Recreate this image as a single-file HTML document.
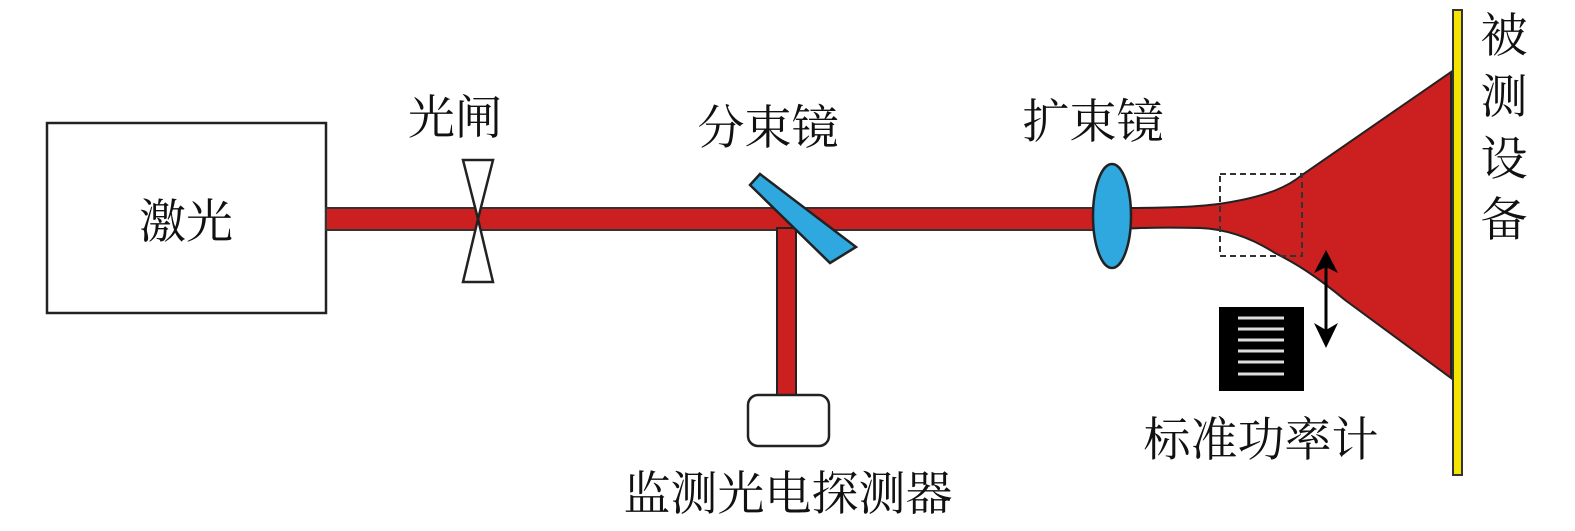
<!DOCTYPE html>
<html><head><meta charset="utf-8"><style>
html,body{margin:0;padding:0;background:#fff;}
svg{display:block;}
text{font-family:"Liberation Serif","Noto Serif CJK SC","Noto Sans CJK SC",serif;font-size:47px;fill:#111;}
</style></head><body>
<svg width="1575" height="531" viewBox="0 0 1575 531" xmlns="http://www.w3.org/2000/svg">
<rect x="47" y="123" width="279" height="190" fill="#fff" stroke="#222" stroke-width="2.5"/>
<text x="186" y="238" text-anchor="middle">激光</text>
<rect x="326" y="208" width="790" height="22" fill="#cc1f1f" stroke="#333" stroke-width="2"/>
<rect x="777" y="228" width="19" height="167" fill="#cc1f1f" stroke="#222" stroke-width="2"/>
<rect x="748" y="395" width="81" height="51" rx="10" fill="#fff" stroke="#222" stroke-width="2.5"/>
<polygon points="463,160 493,160 478,219 493,282 463,282 478,219" fill="#fff" stroke="#222" stroke-width="2.5"/>
<polygon points="750,185 760,174 856,247 830,263" fill="#2ea8de" stroke="#222" stroke-width="2.5"/>
<path d="M1112,208 C1170,208 1200,207 1225,203 C1270,196 1290,185 1302,175 L1451,72 L1451,378 L1345,300 C1315,275 1295,263 1275,253 C1250,237 1225,229 1200,228 C1160,227 1130,228 1112,230 Z" fill="#cc1f1f" stroke="#222" stroke-width="2"/>
<ellipse cx="1112" cy="216" rx="19" ry="52" fill="#2ea8de" stroke="#222" stroke-width="2.5"/>
<rect x="1220" y="174" width="82" height="82" fill="none" stroke="#333" stroke-width="2" stroke-dasharray="6,4"/>
<rect x="1219" y="307" width="85" height="84" fill="#000"/>
<g stroke="#ddd" stroke-width="3">
<line x1="1238" y1="318" x2="1284" y2="318"/>
<line x1="1238" y1="329" x2="1284" y2="329"/>
<line x1="1238" y1="340" x2="1284" y2="340"/>
<line x1="1238" y1="351" x2="1284" y2="351"/>
<line x1="1238" y1="362" x2="1284" y2="362"/>
<line x1="1238" y1="374" x2="1284" y2="374"/>
</g>
<line x1="1326" y1="262" x2="1326" y2="336" stroke="#000" stroke-width="3"/>
<polygon points="1326,250 1314,273 1326,267 1338,273" fill="#000"/>
<polygon points="1326,348 1314,323 1326,330 1338,323" fill="#000"/>
<rect x="1453" y="10" width="9" height="465" fill="#f5e400" stroke="#333" stroke-width="2"/>
<text x="455" y="134" text-anchor="middle">光闸</text>
<text x="768" y="144" text-anchor="middle">分束镜</text>
<text x="1093" y="138" text-anchor="middle">扩束镜</text>
<text x="788" y="510" text-anchor="middle">监测光电探测器</text>
<text x="1261" y="456" text-anchor="middle">标准功率计</text>
<text x="1504" y="52" text-anchor="middle">被</text>
<text x="1504" y="113" text-anchor="middle">测</text>
<text x="1504" y="175" text-anchor="middle">设</text>
<text x="1504" y="236" text-anchor="middle">备</text>
</svg>
</body></html>
